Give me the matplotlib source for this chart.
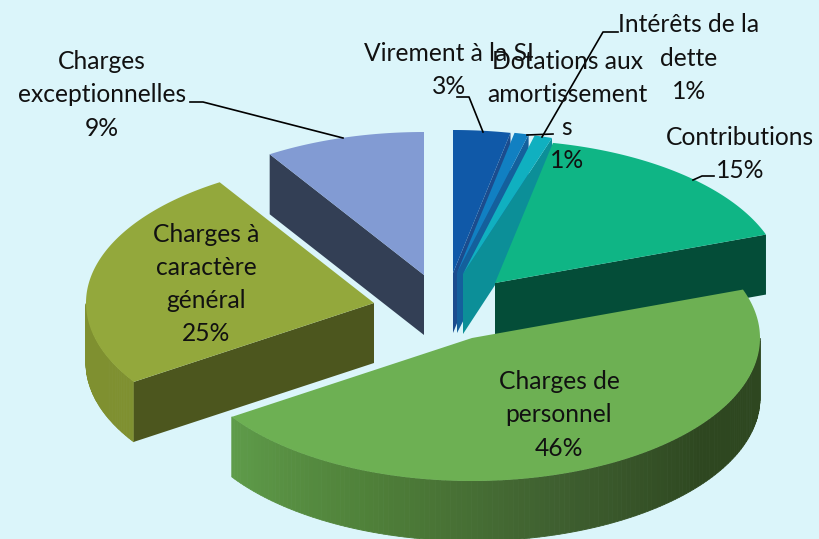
import numpy as np
import matplotlib
matplotlib.use("Agg")
import matplotlib.pyplot as plt
from matplotlib.colors import LinearSegmentedColormap

names = ["Virement à la SI", "Intérêts de la\ndette", "Dotations aux\namortissement\ns",
         "Contributions", "Charges de\npersonnel", "Charges à\ncaractère\ngénéral",
         "Charges\nexceptionnelles"]
percents = [3, 1, 1, 15, 46, 25, 9]
# unrounded shares
shares = [3.2, 0.8, 1.0, 14.5, 46.2, 25.3, 9.0]

# look of each slice
apex_x = [453, 457, 463, 495, 472, 374, 424]
apex_y = [273, 273, 274, 283, 338, 303, 275]
start_nudge = [0, 0, 0, -6.4, 0, 0, 0]
top_colors = ["#1059A8", "#1180C2", "#10B0C0", "#0FB585", "#6DB053", "#93A83C", "#829BD3"]
cut_colors = ["#1B4C8E", "#14609C", "#0C8F98", "#044D38", "#3C6A2C", "#4C561E", "#333F55"]
side_colors = ["#1059A8", "#1180C2", "#0C8F98", "#044D38", "#2E4720", "#7F9030", "#333F55"]
draw_order = [6, 0, 1, 2, 3, 5, 4]

label_x = [449, 689, 567, 740, 559, 206, 102]
label_y = [70, 58, 111, 154, 415, 284, 95]

RX = 288
RY = 143
DEPTH = 60
BG = "#DBF5FA"

personnel_side = LinearSegmentedColormap.from_list(
    "personnel_side", ["#2E4720", "#2E4720", "#3F6030", "#4F8039", "#5F9C4A"])


def rim(cx, cy, t):
    return cx + RX * np.sin(t), cy - RY * np.cos(t)


fig = plt.figure(figsize=(8.19, 5.39), dpi=100, facecolor=BG)
ax = fig.add_axes([0, 0, 1, 1])
ax.set_xlim(0, 819)
ax.set_ylim(539, 0)
ax.axis("off")

ends = np.cumsum(shares) / sum(shares) * 2 * np.pi
starts = ends - np.array(shares) / sum(shares) * 2 * np.pi
starts = starts + np.radians(start_nudge)

for i in draw_order:
    cx, cy = apex_x[i], apex_y[i]
    z = 2 + draw_order.index(i)
    t = np.linspace(starts[i], ends[i], 160)
    x, y = rim(cx, cy, t)

    # outer wall, only where the rim faces the viewer
    front = t[(t > np.pi / 2) & (t < 3 * np.pi / 2)]
    if len(front) > 1:
        fx, fy = rim(cx, cy, front)
        for k in range(len(front) - 1):
            if i == 4:
                col = personnel_side((front[k] - front[0]) / (front[-1] - front[0]))
            else:
                col = side_colors[i]
            ax.fill([fx[k], fx[k + 1], fx[k + 1], fx[k]],
                    [fy[k], fy[k + 1], fy[k + 1] + DEPTH, fy[k] + DEPTH],
                    color=col, lw=0.6, zorder=z)

    # cut face between centre and the rim end turned to the viewer
    if i != 4:
        if i in (5, 6):
            ex, ey = x[0], y[0]
        else:
            ex, ey = x[-1], y[-1]
        ax.fill([cx, ex, ex, cx], [cy, ey, ey + DEPTH, cy + DEPTH],
                color=cut_colors[i], lw=0, zorder=z)

    ax.fill(np.r_[cx, x], np.r_[cy, y], color=top_colors[i], lw=0, zorder=z)

# leader lines
ax.plot([190, 203, 343], [102, 102, 138], color="black", lw=1.2, zorder=20)
ax.plot([457, 469, 483], [97, 97, 132], color="black", lw=1.2, zorder=20)
ax.plot([618, 603, 542], [32, 32, 137], color="black", lw=1.2, zorder=20)
ax.plot([527, 553], [135, 134], color="black", lw=1.2, zorder=20)
ax.plot([714, 702, 693], [176, 176, 180], color="black", lw=1.2, zorder=20)

for i in range(len(names)):
    ax.text(label_x[i], label_y[i], f"{names[i]}\n{percents[i]}%", ha="center", va="center",
            ma="center", fontsize=17.7, family="Lato", color="#111111",
            linespacing=1.53, zorder=30)

fig.savefig("out.png", dpi=100, facecolor=BG)
